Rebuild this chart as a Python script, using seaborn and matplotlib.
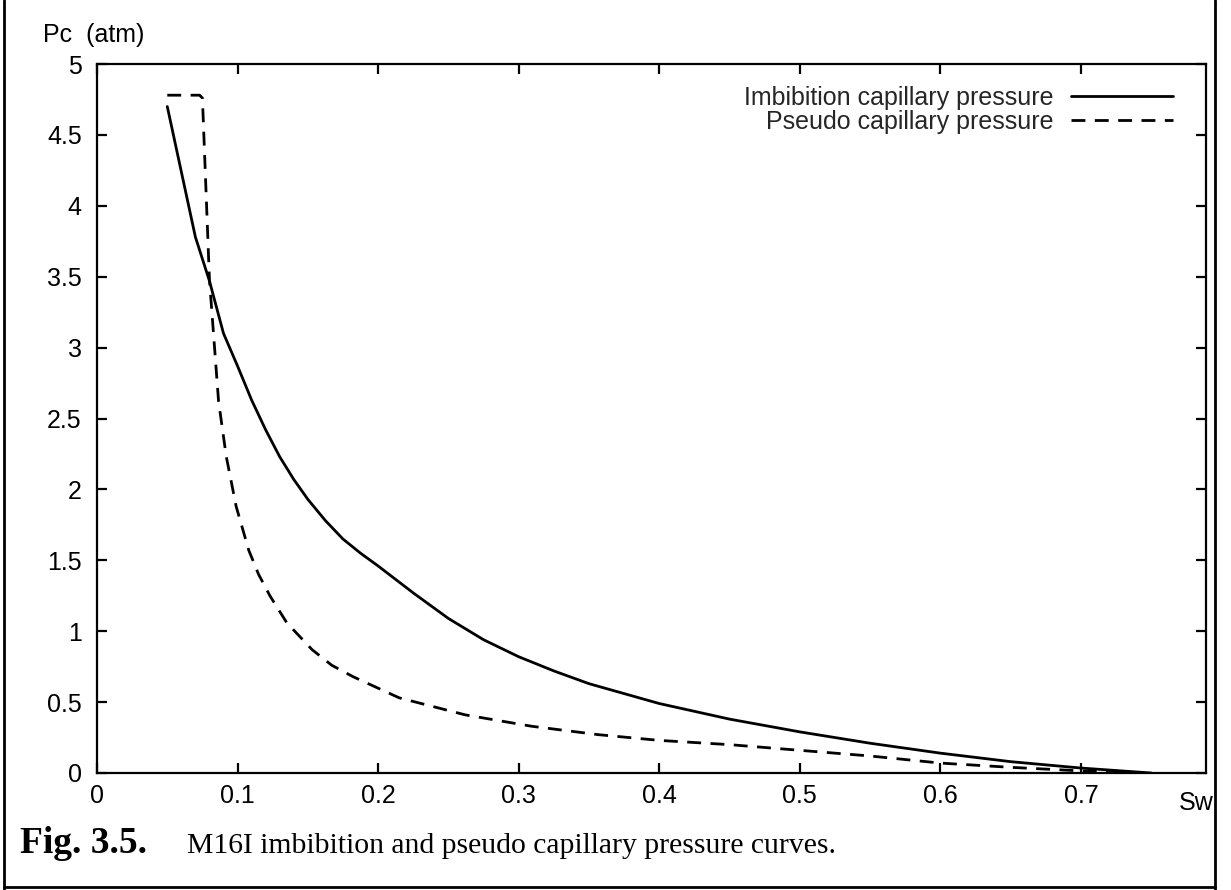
import matplotlib
matplotlib.use("Agg")
import matplotlib.pyplot as plt
from matplotlib.lines import Line2D
import seaborn as sns
import pandas as pd

# Imbibition capillary pressure curve (Sw, Pc in atm)
sw_imb = [0.05, 0.07, 0.08, 0.09, 0.10, 0.11, 0.12, 0.13, 0.14, 0.15, 0.1625, 0.175,
          0.1875, 0.20, 0.225, 0.25, 0.275, 0.30, 0.325, 0.35, 0.375, 0.40, 0.45,
          0.50, 0.55, 0.60, 0.65, 0.70, 0.75]
pc_imb = [4.70, 3.78, 3.47, 3.10, 2.87, 2.63, 2.42, 2.23, 2.07, 1.93, 1.78, 1.65,
          1.55, 1.46, 1.27, 1.09, 0.94, 0.82, 0.72, 0.63, 0.56, 0.49, 0.38,
          0.29, 0.21, 0.14, 0.08, 0.035, 0.0]

# Pseudo capillary pressure curve
sw_pseudo = [0.05, 0.073, 0.075, 0.080, 0.0865, 0.092, 0.099, 0.108, 0.115, 0.123,
             0.135, 0.153, 0.167, 0.182, 0.215, 0.262, 0.309, 0.357, 0.40, 0.45,
             0.50, 0.55, 0.60, 0.65, 0.70, 0.75]
pc_pseudo = [4.78, 4.78, 4.76, 3.48, 2.62, 2.23, 1.88, 1.57, 1.40, 1.25,
             1.06, 0.87, 0.76, 0.68, 0.53, 0.41, 0.33, 0.27, 0.23, 0.20,
             0.16, 0.12, 0.07, 0.04, 0.015, 0.0]

x_ticks = [0, 0.1, 0.2, 0.3, 0.4, 0.5, 0.6, 0.7]
x_tick_labels = ["0", "0.1", "0.2", "0.3", "0.4", "0.5", "0.6", "0.7"]
y_ticks = [0, 0.5, 1, 1.5, 2, 2.5, 3, 3.5, 4, 4.5, 5]
y_tick_labels = ["0", "0.5", "1", "1.5", "2", "2.5", "3", "3.5", "4", "4.5", "5"]

label_imb = "Imbibition capillary pressure"
label_pseudo = "Pseudo capillary pressure"
y_title = "Pc  (atm)"
x_title = "Sw"
caption_bold = "Fig. 3.5."
caption_text = "M16I imbibition and pseudo capillary pressure curves."

sns.set_theme(style="ticks")
plt.rcParams["font.family"] = ["Liberation Sans", "DejaVu Sans"]

W, H = 1231, 890
FS = 18
DASH = (5.0, 3.4)

fig = plt.figure(figsize=(W / 100, H / 100), dpi=100)
fig.patch.set_facecolor("white")

left, right, top, bottom = 97, 1206, 64, 773
ax = fig.add_axes([left / W, 1 - bottom / H, (right - left) / W, (bottom - top) / H])
ax.set_facecolor("white")

df_imb = pd.DataFrame({"Sw": sw_imb, "Pc": pc_imb})
df_pseudo = pd.DataFrame({"Sw": sw_pseudo, "Pc": pc_pseudo})

sns.lineplot(data=df_imb, x="Sw", y="Pc", ax=ax, color="black", lw=2,
             estimator=None, sort=False, label=label_imb)
sns.lineplot(data=df_pseudo, x="Sw", y="Pc", ax=ax, color="black", lw=2,
             estimator=None, sort=False, label=label_pseudo)
ax.lines[1].set_dashes(DASH)

ax.set_xlim(0, 0.789)
ax.set_ylim(0, 5)
ax.set_xticks(x_ticks)
ax.set_xticklabels(x_tick_labels)
ax.set_yticks(y_ticks)
ax.set_yticklabels(y_tick_labels)
ax.set_xlabel("")
ax.set_ylabel("")

for s in ax.spines.values():
    s.set_visible(True)
    s.set_linewidth(1.6)
    s.set_color("black")

ax.tick_params(axis="both", which="major", direction="in", length=7.5, width=1.6,
               color="black", labelsize=FS, labelcolor="black",
               top=True, right=True)
ax.tick_params(axis="y", pad=11)
ax.tick_params(axis="x", pad=8)

# Axis titles placed gnuplot-style
ax.text(-(97 - 43) / 1109, (773 - 35) / 709, y_title,
        transform=ax.transAxes, ha="left", va="center", fontsize=FS, color="black")
ax.text((1196 - 97) / 1109, -(803 - 773) / 709, x_title,
        transform=ax.transAxes, ha="center", va="center", fontsize=FS, color="black")

# Legend: labels right-aligned, line samples on the right
handles = [Line2D([], [], color="black", lw=2),
           Line2D([], [], color="black", lw=2, dashes=DASH)]
ax.legend(handles, [label_imb, label_pseudo], loc="upper right",
          bbox_to_anchor=((1173 - 97) / 1109, (773 - 86) / 709),
          frameon=False, markerfirst=False, fontsize=FS, handlelength=4.1,
          handletextpad=0.7, labelspacing=0.0, borderpad=0, borderaxespad=0)

# Caption
fig.text(20 / W, 1 - 853 / H, caption_bold, fontsize=27, fontweight="bold",
         family=["Liberation Serif"], ha="left", va="baseline", color="black")
fig.text(187 / W, 1 - 853 / H, caption_text, fontsize=21.3,
         family=["Liberation Serif"], ha="left", va="baseline", color="black")

# Frame around the figure
frame_kw = dict(color="black", lw=2, transform=fig.transFigure)
fig.add_artist(Line2D([4 / W, 4 / W], [0, 1], **frame_kw))
fig.add_artist(Line2D([1215 / W, 1215 / W], [0, 1], **frame_kw))
fig.add_artist(Line2D([4 / W, 1215 / W], [1 - 887 / H, 1 - 887 / H], **frame_kw))

fig.savefig("out.png", dpi=100, facecolor="white")
